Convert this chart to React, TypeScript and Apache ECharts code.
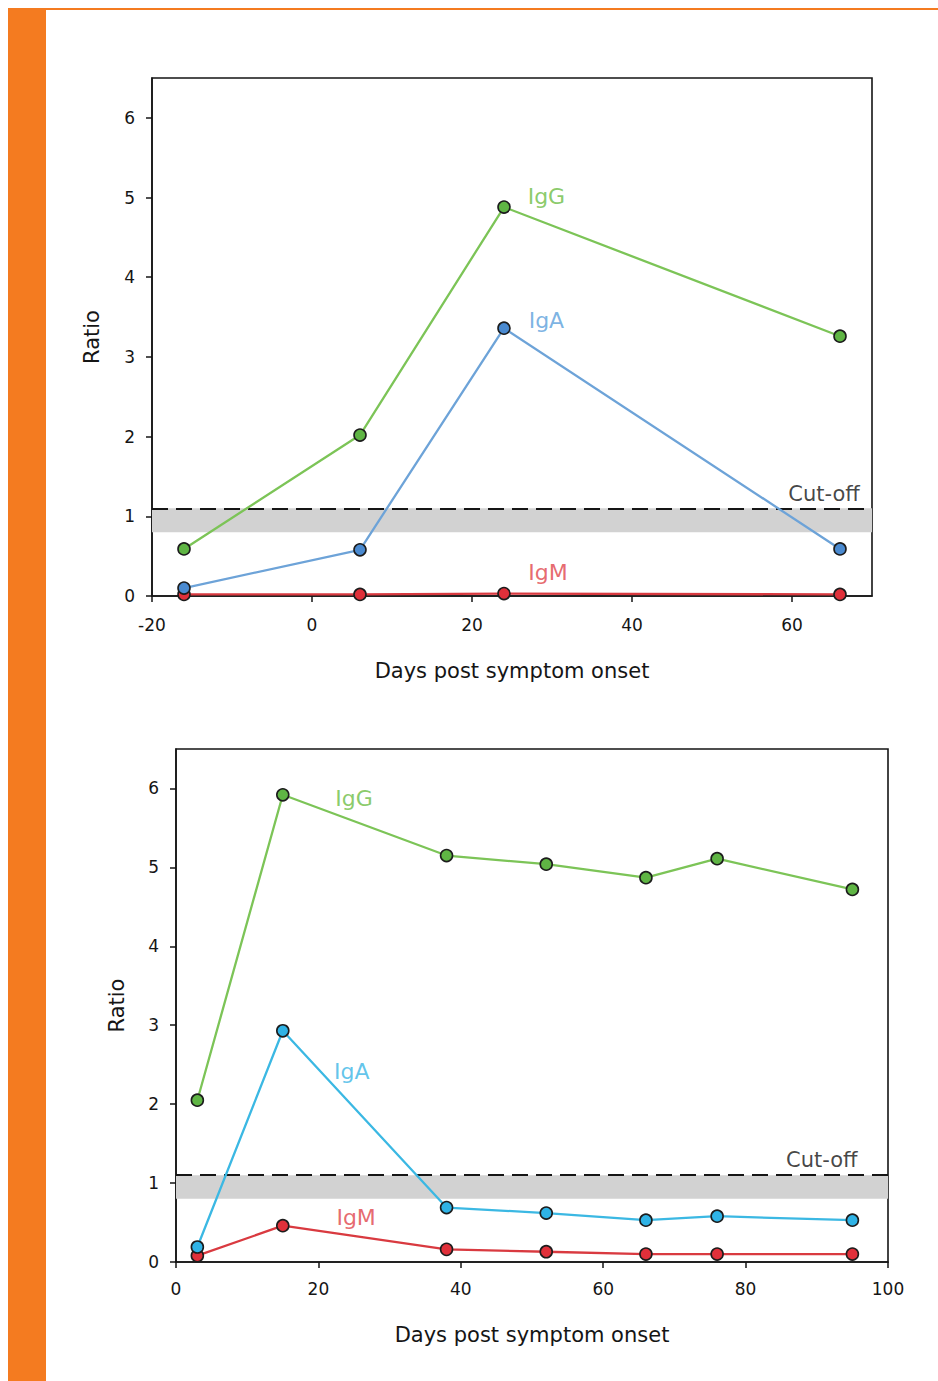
import React, { useEffect, useRef } from "react";
import * as echarts from "echarts";

// ---- Top panel data ----
const topDays = [-16, 6, 24, 66];
const topIgG = [0.59, 2.02, 4.88, 3.26];
const topIgA = [0.1, 0.58, 3.36, 0.59];
const topIgM = [0.02, 0.02, 0.03, 0.02];
const topXTicks = [-20, 0, 20, 40, 60];

// ---- Bottom panel data ----
const botDays = [3, 15, 38, 52, 66, 76, 95];
const botIgG = [2.05, 5.92, 5.15, 5.04, 4.87, 5.11, 4.72];
const botIgA = [0.19, 2.93, 0.69, 0.62, 0.53, 0.58, 0.53];
const botIgM = [0.08, 0.46, 0.16, 0.13, 0.1, 0.1, 0.1];
const botXTicks = [0, 20, 40, 60, 80, 100];

const yTicks = [0, 1, 2, 3, 4, 5, 6];
const cutOff = 1.1;
const bandLow = 0.8;

// label anchors [x, y, text]
const topLabels: [number, number, string][] = [
  [29.3, 5.01, "IgG"],
  [29.3, 3.46, "IgA"],
  [29.5, 0.29, "IgM"],
];
const topCutLabel: [number, number, string] = [64, 1.28, "Cut-off"];
const botLabels: [number, number, string][] = [
  [25.0, 5.87, "IgG"],
  [24.7, 2.41, "IgA"],
  [25.3, 0.56, "IgM"],
];
const botCutLabel: [number, number, string] = [90.7, 1.29, "Cut-off"];

const FONT = "DejaVu Sans";
const GREEN_LINE = "#7cc457";
const GREEN_DOT = "#5fb544";
const BLUE_LINE = "#6da3d8";
const BLUE_DOT = "#4a8ad0";
const CYAN_LINE = "#3bb8e3";
const CYAN_DOT = "#2fb3e6";
const RED_LINE = "#d93a40";
const RED_DOT = "#e0303a";
const GREEN_TXT = "#6cbd44";
const BLUE_TXT = "#5b9fdc";
const CYAN_TXT = "#3ab6e6";
const RED_TXT = "#e0434a";
const INK = "#151515";

function pairs(xs: number[], ys: number[]) {
  return xs.map((x, i) => [x, ys[i]]);
}

function lineSeries(idx: number, xs: number[], ys: number[], line: string, dot: string) {
  return {
    type: "line",
    xAxisIndex: idx,
    yAxisIndex: idx,
    data: pairs(xs, ys),
    symbol: "circle",
    symbolSize: 12,
    z: 5,
    lineStyle: { color: line, width: 2.3 },
    itemStyle: { color: dot, borderColor: "#1c1c1c", borderWidth: 1.6 },
  };
}

function labelSeries(idx: number, labels: [number, number, string][], colors: string[], size: number) {
  return {
    type: "scatter",
    xAxisIndex: idx,
    yAxisIndex: idx,
    symbolSize: 1,
    z: 6,
    itemStyle: { color: "rgba(0,0,0,0)" },
    data: labels.map((l, i) => ({
      value: [l[0], l[1]],
      label: {
        show: true,
        position: "inside",
        formatter: l[2],
        color: colors[i],
        fontSize: size,
        fontFamily: FONT,
      },
    })),
  };
}

function cutSeries(idx: number) {
  return {
    type: "line",
    xAxisIndex: idx,
    yAxisIndex: idx,
    data: [],
    z: 1,
    markArea: {
      silent: true,
      itemStyle: { color: "#d2d2d2" },
      data: [[{ yAxis: bandLow }, { yAxis: cutOff }]],
    },
    markLine: {
      silent: true,
      symbol: "none",
      label: { show: false },
      lineStyle: { color: INK, width: 2.2, type: [16, 8] },
      data: [{ yAxis: cutOff }],
    },
  };
}

function xAxis(idx: number, min: number, max: number, ticks: number[], gap: number, margin: number) {
  return {
    type: "value",
    gridIndex: idx,
    min,
    max,
    interval: 20,
    name: "Days post symptom onset",
    nameLocation: "middle",
    nameGap: gap,
    nameTextStyle: { fontFamily: FONT, fontSize: 21, color: INK },
    splitLine: { show: false },
    axisLine: { show: true, onZero: false, lineStyle: { color: INK, width: 1.5 } },
    axisTick: { show: true, length: 6, customValues: ticks, lineStyle: { color: INK, width: 1.5 } },
    axisLabel: { customValues: ticks, fontFamily: FONT, fontSize: 17, color: INK, margin },
  };
}

function yAxis(idx: number, gap: number) {
  return {
    type: "value",
    gridIndex: idx,
    min: 0,
    max: 6.5,
    interval: 1,
    name: "Ratio",
    nameLocation: "middle",
    nameGap: gap,
    nameTextStyle: { fontFamily: FONT, fontSize: 21, color: INK },
    splitLine: { show: false },
    axisLine: { show: true, onZero: false, lineStyle: { color: INK, width: 1.5 } },
    axisTick: { show: true, length: 6, customValues: yTicks, lineStyle: { color: INK, width: 1.5 } },
    axisLabel: { customValues: yTicks, fontFamily: FONT, fontSize: 17, color: INK, margin: 17 },
  };
}

export default function App() {
  const ref = useRef<HTMLDivElement>(null);
  useEffect(() => {
    if (!ref.current) return;
    const chart = echarts.init(ref.current, null, { renderer: "svg" });
    chart.setOption({
      animation: false,
      backgroundColor: "#ffffff",
      graphic: [
        { type: "rect", shape: { x: 8, y: 8, width: 38, height: 1373 }, style: { fill: "#f47b20" }, z: 0 },
        { type: "rect", shape: { x: 8, y: 8, width: 930, height: 2 }, style: { fill: "#f47b20" }, z: 0 },
      ],
      grid: [
        { left: 152, top: 78, width: 720, height: 518, show: true, borderColor: INK, borderWidth: 1.6, backgroundColor: "transparent" },
        { left: 176, top: 749, width: 712, height: 513, show: true, borderColor: INK, borderWidth: 1.6, backgroundColor: "transparent" },
      ],
      xAxis: [xAxis(0, -20, 70, topXTicks, 64, 20), xAxis(1, 0, 100, botXTicks, 62, 18)],
      yAxis: [yAxis(0, 50), yAxis(1, 49)],
      series: [
        cutSeries(0),
        lineSeries(0, topDays, topIgM, RED_LINE, RED_DOT),
        lineSeries(0, topDays, topIgA, BLUE_LINE, BLUE_DOT),
        lineSeries(0, topDays, topIgG, GREEN_LINE, GREEN_DOT),
        labelSeries(0, topLabels, [GREEN_TXT, BLUE_TXT, RED_TXT], 22),
        labelSeries(0, [topCutLabel], [INK], 21),
        cutSeries(1),
        lineSeries(1, botDays, botIgM, RED_LINE, RED_DOT),
        lineSeries(1, botDays, botIgA, CYAN_LINE, CYAN_DOT),
        lineSeries(1, botDays, botIgG, GREEN_LINE, GREEN_DOT),
        labelSeries(1, botLabels, [GREEN_TXT, CYAN_TXT, RED_TXT], 22),
        labelSeries(1, [botCutLabel], [INK], 21),
      ],
    });
    return () => chart.dispose();
  }, []);
  return (
    <div
      ref={ref}
      style={{ position: "fixed", left: 0, top: 0, width: 938, height: 1381, background: "#fff" }}
    />
  );
}
